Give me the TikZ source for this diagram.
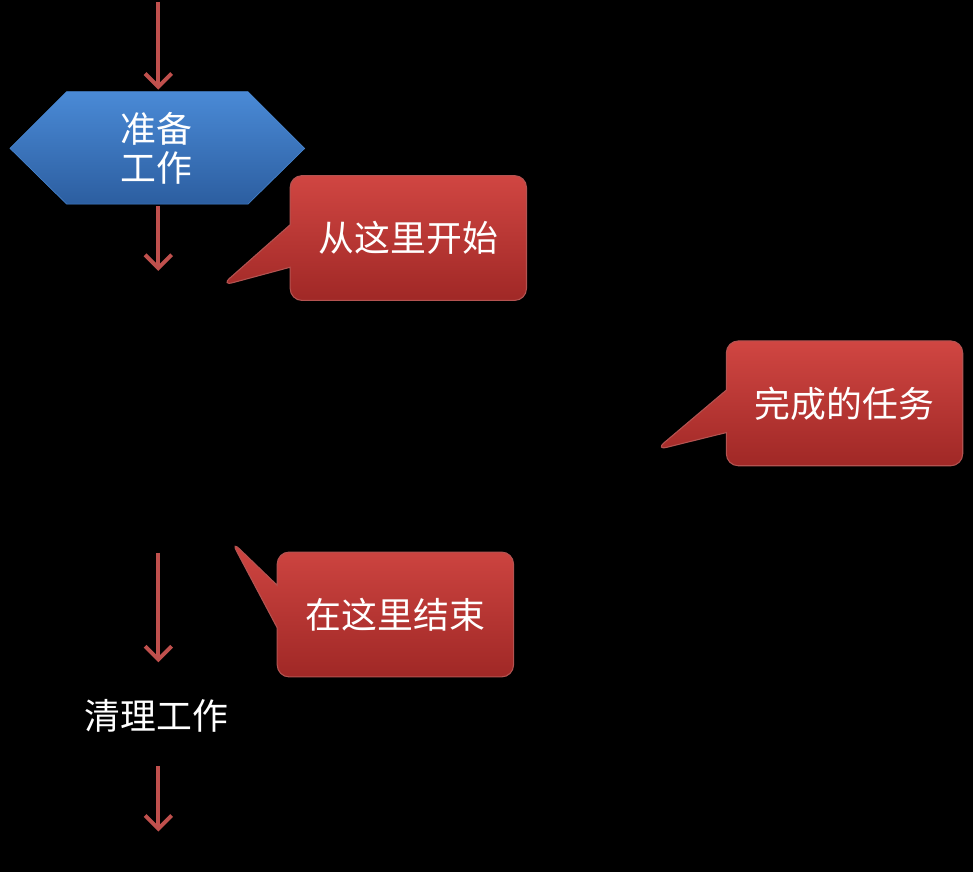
\documentclass[tikz,border=0pt]{standalone}
\usepackage{fontspec}
\setmainfont{Noto Sans CJK SC}
\usetikzlibrary{shapes.misc,shapes.callouts,arrows.meta}
\definecolor{arrowred}{RGB}{192,80,77}
\definecolor{boxtop}{RGB}{208,70,66}
\definecolor{boxbot}{RGB}{160,40,38}
\definecolor{hextop}{RGB}{74,138,214}
\definecolor{hexbot}{RGB}{44,94,160}
\begin{document}
\begin{tikzpicture}[x=0.75pt, y=-0.75pt,
  flow/.style = {draw=arrowred, line width=3pt, -{Straight Barb[length=10pt,width=20pt,line width=3pt]}},
  label/.style = {text=white, font=\fontsize{27}{33}\selectfont, align=center},
  bubble/.style = {rectangle callout, rounded corners=9pt, draw=boxbot!80, line width=0.8pt,
    callout pointer width=32pt,
    top color=boxtop, bottom color=boxbot, minimum width=178pt, minimum height=94pt, label}]
  \fill[black] (-2,-2) rectangle (975,874);
  \useasboundingbox (0,0) rectangle (973,872);
  % top arrow
  \coordinate (top) at (157,0);
  \coordinate (hexin) at (157,88);
  \draw[flow] (top) -- (hexin);
  % preparation
  \fill[top color=hextop, bottom color=hexbot, draw=hextop]
    (8,147) -- (65,90) -- (247,90) -- (304,147) -- (247,203) -- (65,203) -- cycle;
  \node[label] (prep) at (155,147) {准备\\[-4pt]工作};
  \coordinate (prepout) at (157,205);
  \coordinate (startpt) at (157,270);
  \draw[flow] (prepout) -- (startpt);
  % callouts
  \node[bubble, callout absolute pointer={(220,285)}] (start) at (408,237) {从这里开始};
  \node[bubble, callout absolute pointer={(656,450)}] (done) at (846,403) {完成的任务};
  \node[bubble, callout absolute pointer={(230,541)}] (finish) at (395,615) {在这里结束};
  % cleanup
  \coordinate (endpt) at (157,553);
  \node[label] (clean) at (155,717) {清理工作};
  \draw[flow] (endpt) -- (157,663);
  \coordinate (out) at (157,833);
  \draw[flow] (157,767) -- (out);
\end{tikzpicture}
\end{document}
